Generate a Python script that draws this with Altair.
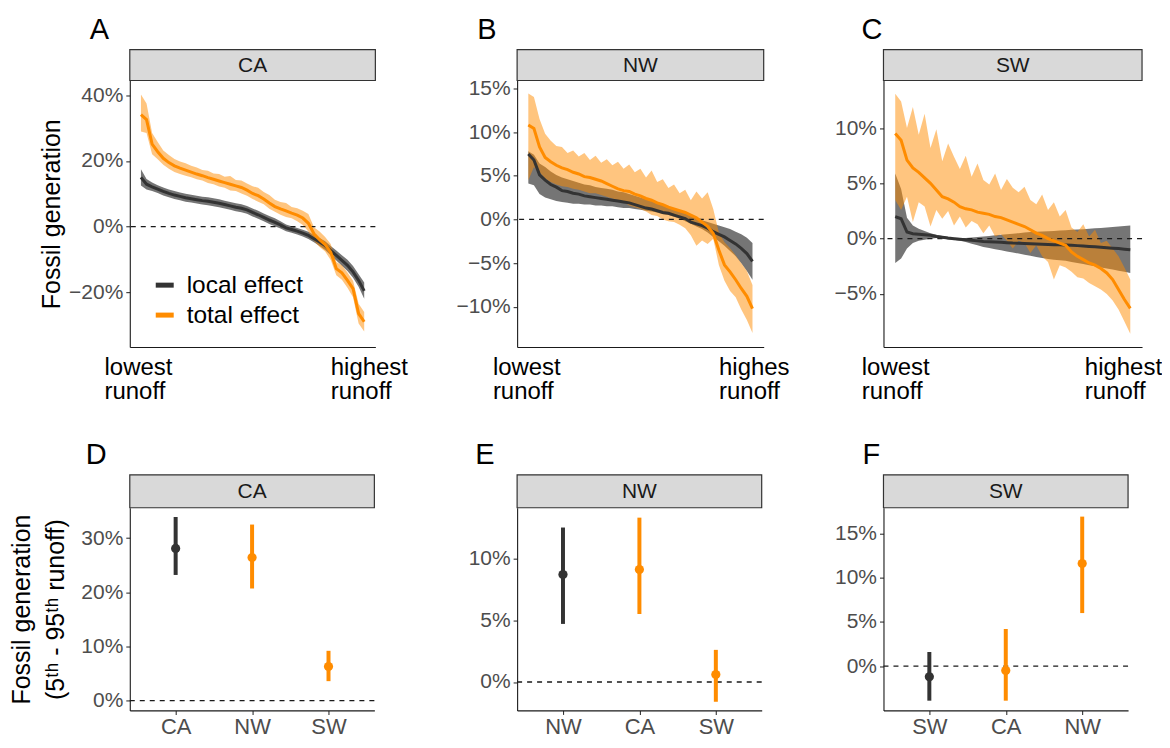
import altair as alt
import pandas as pd

FONT = "Liberation Sans"
DARK = "#333333"
ORANGE = "#FF8C00"
AXIS_GREY = "#4D4D4D"
EFFECTS = ["local effect", "total effect"]

# ---------------- data: sorted runoff rank (1 = lowest, 41 = highest) ----------------
runoff_rank = list(range(1, 42))

# Panel A (CA), values in %
ca_local_mean = [15.0, 12.9, 12.1, 11.4, 10.7, 10.1, 9.6, 9.2, 8.8, 8.5, 8.2, 7.9, 7.7, 7.4, 7.1, 6.7, 6.3, 5.9, 5.6, 5.1,
                 4.3, 3.6, 2.8, 2.0, 1.3, 0.5, -0.4, -0.9, -1.4, -2.0, -2.7, -3.7, -4.7, -5.8, -7.3, -8.8, -10.3, -11.8, -13.8, -16.4, -19.6]
ca_local_hi = [17.5, 14.5, 13.4, 12.6, 11.9, 11.3, 10.8, 10.4, 10.0, 9.7, 9.4, 9.1, 8.9, 8.6, 8.3, 7.9, 7.5, 7.1, 6.8, 6.3,
               5.5, 4.8, 4.0, 3.2, 2.5, 1.6, 0.6, 0.1, -0.4, -1.0, -1.6, -2.6, -3.5, -4.5, -5.9, -7.3, -8.7, -10.1, -12.0, -14.5, -17.0]
ca_local_lo = [12.5, 11.3, 10.8, 10.2, 9.5, 8.9, 8.4, 8.0, 7.6, 7.3, 7.0, 6.7, 6.5, 6.2, 5.9, 5.5, 5.1, 4.7, 4.4, 3.9,
               3.1, 2.4, 1.6, 0.8, 0.1, -0.6, -1.4, -1.9, -2.4, -3.0, -3.8, -4.8, -5.9, -7.1, -8.7, -10.3, -11.9, -13.5, -15.6, -18.3, -22.0]
ca_total_mean = [34.1, 32.6, 25.1, 22.8, 20.8, 19.5, 18.5, 17.8, 17.2, 16.6, 16.0, 15.5, 14.9, 14.4, 13.9, 13.4, 12.9, 12.4, 11.9, 11.1,
                 10.1, 9.4, 8.4, 7.2, 6.1, 5.4, 4.8, 4.1, 3.5, 2.6, 1.0, -2.2, -4.0, -5.5, -7.8, -12.8, -14.1, -16.4, -18.9, -26.5, -29.0]
ca_total_hi = [40.2, 37.5, 28.5, 25.8, 23.2, 21.8, 20.6, 19.8, 19.3, 18.5, 18.0, 17.2, 17.0, 16.2, 16.0, 15.2, 15.4, 14.2, 14.0, 13.1,
               12.3, 11.8, 10.5, 9.6, 8.2, 7.5, 7.2, 6.0, 5.6, 4.8, 3.8, -0.2, -1.5, -3.2, -5.3, -10.8, -11.8, -14.0, -16.5, -23.5, -26.0]
ca_total_lo = [29.0, 28.5, 22.0, 20.5, 18.8, 17.6, 16.6, 16.0, 15.5, 15.0, 14.4, 14.0, 13.3, 12.9, 12.2, 11.8, 11.0, 10.8, 10.1, 9.4,
               8.4, 7.6, 6.8, 5.4, 4.5, 3.6, 2.9, 2.5, 1.6, 0.5, -1.5, -4.3, -6.2, -7.6, -10.2, -14.8, -16.2, -18.6, -21.5, -29.5, -32.0]

# Panel B (NW)
nw_local_mean = [7.5, 6.8, 5.1, 4.5, 4.0, 3.7, 3.3, 3.2, 3.0, 2.9, 2.7, 2.6, 2.5, 2.4, 2.3, 2.2, 2.1, 2.0, 1.9, 1.7,
                 1.5, 1.3, 1.2, 1.0, 0.8, 0.7, 0.5, 0.3, 0.1, -0.3, -0.5, -0.7, -1.0, -1.4, -1.7, -2.0, -2.4, -2.8, -3.3, -3.9, -4.8]
nw_local_hi = [7.8, 7.4, 6.4, 6.0, 5.5, 5.1, 4.8, 4.6, 4.4, 4.2, 4.0, 3.9, 3.7, 3.6, 3.5, 3.4, 3.2, 3.1, 2.9, 2.7,
               2.5, 2.3, 2.1, 1.9, 1.7, 1.5, 1.2, 1.0, 0.7, 0.4, 0.2, -0.1, -0.3, -0.5, -0.7, -0.9, -1.1, -1.4, -1.7, -2.1, -2.7]
nw_local_lo = [4.1, 3.9, 2.9, 2.5, 2.3, 2.1, 2.0, 1.9, 1.8, 1.8, 1.7, 1.7, 1.6, 1.6, 1.5, 1.5, 1.4, 1.3, 1.3, 1.2,
               1.1, 1.0, 0.9, 0.8, 0.6, 0.5, 0.3, 0.1, -0.2, -0.5, -0.8, -1.1, -1.5, -2.0, -2.5, -3.0, -3.6, -4.2, -5.0, -5.9, -6.9]
nw_total_mean = [10.8, 10.4, 8.3, 7.1, 6.6, 6.2, 5.9, 5.7, 5.4, 5.2, 4.9, 4.8, 4.6, 4.4, 4.1, 3.8, 3.5, 3.3, 3.2, 2.9,
                 2.7, 2.4, 2.2, 1.9, 1.7, 1.4, 1.2, 1.0, 0.8, 0.5, 0.2, -0.3, -0.8, -1.6, -3.5, -5.2, -6.0, -6.9, -7.9, -8.8, -10.2]
nw_total_hi = [14.4, 14.0, 11.5, 9.8, 9.0, 8.4, 8.3, 7.6, 7.9, 7.2, 7.6, 6.8, 7.3, 6.5, 6.9, 6.2, 6.6, 5.8, 6.3, 5.4,
               5.8, 4.8, 5.6, 4.3, 4.6, 3.6, 4.0, 3.0, 3.4, 2.2, 3.2, 2.4, 3.1, 1.2, -1.5, -2.6, -3.3, -4.1, -5.0, -5.9, -7.5]
nw_total_lo = [4.5, 6.0, 5.4, 4.7, 4.3, 4.0, 3.8, 3.7, 3.5, 3.4, 3.2, 3.0, 3.0, 2.8, 2.6, 2.4, 2.2, 2.0, 1.6, 1.4,
               1.2, 0.9, 0.5, 0.4, 0.0, -0.2, -0.3, -0.6, -1.0, -1.8, -3.0, -2.4, -2.8, -2.2, -5.2, -7.0, -8.2, -8.9, -10.3, -11.5, -13.0]

# Panel C (SW)
sw_local_mean = [2.0, 1.8, 0.6, 0.45, 0.4, 0.35, 0.3, 0.2, 0.12, 0.05, 0.0, -0.05, -0.1, -0.15, -0.2, -0.25, -0.28, -0.3, -0.33, -0.36,
                 -0.4, -0.42, -0.44, -0.46, -0.48, -0.5, -0.52, -0.54, -0.56, -0.58, -0.6, -0.63, -0.66, -0.7, -0.74, -0.78, -0.82, -0.86, -0.9, -0.95, -1.0]
sw_local_hi = [5.9, 4.5, 1.9, 1.2, 0.9, 0.7, 0.5, 0.35, 0.25, 0.15, 0.08, 0.05, 0.05, 0.1, 0.15, 0.2, 0.25, 0.3, 0.35, 0.4,
               0.45, 0.5, 0.55, 0.6, 0.62, 0.65, 0.68, 0.7, 0.73, 0.76, 0.8, 0.83, 0.86, 0.9, 0.93, 0.97, 1.0, 1.05, 1.1, 1.15, 1.2]
sw_local_lo = [-2.2, -1.8, -0.9, -0.4, -0.2, -0.1, 0.0, 0.05, 0.0, -0.05, -0.1, -0.2, -0.3, -0.45, -0.6, -0.75, -0.85, -0.95, -1.05, -1.15,
               -1.25, -1.35, -1.45, -1.55, -1.65, -1.75, -1.85, -1.9, -1.95, -2.0, -2.1, -2.2, -2.3, -2.4, -2.5, -2.6, -2.7, -2.8, -2.9, -3.0, -3.1]
sw_total_mean = [9.5, 8.9, 7.1, 6.4, 6.0, 5.5, 5.0, 4.4, 3.8, 3.6, 3.3, 2.9, 2.7, 2.6, 2.4, 2.3, 2.2, 2.0, 1.9, 1.7,
                 1.5, 1.3, 1.1, 0.8, 0.5, 0.3, 0.0, -0.2, -0.4, -0.6, -1.2, -1.6, -1.9, -2.2, -2.4, -2.7, -3.1, -3.7, -4.6, -5.5, -6.3]
sw_total_hi = [13.1, 12.4, 10.0, 11.9, 9.4, 11.3, 8.2, 9.9, 7.0, 8.6, 7.4, 6.3, 7.5, 5.6, 6.8, 5.3, 4.9, 5.9, 4.4, 5.4,
               4.6, 4.2, 4.7, 3.5, 3.1, 4.0, 2.6, 3.3, 2.0, 2.6, 1.0, 0.6, 1.3, 0.2, 0.8, -0.4, -0.2, -0.9, -1.6, -2.6, -3.7]
sw_total_lo = [3.5, 2.6, 3.8, 1.5, 3.3, 2.9, 1.1, 2.6, 1.8, 2.5, 1.2, 2.0, 1.0, 1.6, 1.3, 0.5, 1.2, 0.2, 0.4, -0.2,
               -0.9, -0.2, -0.4, -1.3, -0.6, -1.6, -2.1, -3.7, -2.4, -2.6, -3.0, -3.5, -3.6, -4.0, -4.3, -4.6, -5.0, -5.6, -6.4, -7.5, -8.6]

# Bottom panels: 5th - 95th runoff difference (%)
d_regions = ["CA", "NW", "SW"]
d_effects = ["local effect", "total effect", "total effect"]
d_mean = [28.1, 26.4, 6.3]
d_lo = [23.2, 20.7, 3.6]
d_hi = [33.9, 32.5, 9.2]

e_regions = ["NW", "CA", "SW"]
e_effects = ["local effect", "total effect", "total effect"]
e_mean = [8.7, 9.1, 0.6]
e_lo = [4.7, 5.5, -1.6]
e_hi = [12.5, 13.3, 2.6]

f_regions = ["SW", "CA", "NW"]
f_effects = ["local effect", "total effect", "total effect"]
f_mean = [-1.2, -0.5, 11.6]
f_lo = [-3.9, -3.9, 6.0]
f_hi = [1.6, 4.2, 16.9]

strip_labels = ["CA", "NW", "SW"]
panel_letters = ["A", "B", "C", "D", "E", "F"]

# ---------------- helpers ----------------
color_scale = alt.Scale(domain=EFFECTS, range=[DARK, ORANGE])
opacity_scale = alt.Scale(domain=EFFECTS, range=[0.68, 0.5])
zero_df = pd.DataFrame({"zero": [0]})
legend_df = pd.DataFrame({"effect": EFFECTS})

BOTTOM_H = 203
DASH = [5, 5]


def top_df(lm, llo, lhi, tm, tlo, thi):
    n = len(runoff_rank)
    return pd.DataFrame({
        "rank": runoff_rank * 2,
        "effect": [EFFECTS[0]] * n + [EFFECTS[1]] * n,
        "mean": lm + tm,
        "lo": llo + tlo,
        "hi": lhi + thi,
    })


def y_axis(values, title=None, title_pad=10):
    kw = dict(values=values, format="d", labelExpr="datum.label + '%'", labelFontSize=21,
              labelColor=AXIS_GREY, labelPadding=3, tickSize=4, tickColor="#333333", tickWidth=1.1,
              domainColor="#1A1A1A", domainWidth=1.1, grid=False)
    if title:
        kw.update(title=title, titleFontSize=25, titleFontWeight="normal", titleColor="black",
                  titlePadding=title_pad, titleLineHeight=34)
    else:
        kw.update(title=None)
    return alt.Axis(**kw)


def manual_legend():
    layers = []
    for k, eff in enumerate(EFFECTS):
        src = alt.Chart(legend_df).transform_filter(alt.datum.effect == eff)
        layers.append(src.mark_rule(strokeWidth=5).encode(
            x=alt.value(26), x2=alt.value(44), y=alt.value(205 + 30 * k),
            color=alt.Color("effect:N", scale=color_scale, legend=None)))
        layers.append(src.mark_text(align="left", baseline="middle", fontSize=24.5, color="black").encode(
            x=alt.value(57), y=alt.value(206 + 30 * k), text="effect:N"))
    return layers


def zero_line(ysc, yax):
    return alt.Chart(zero_df).mark_rule(color="#1A1A1A", strokeWidth=1.3, strokeDash=DASH).encode(
        y=alt.Y("zero:Q", scale=ysc, axis=yax))


def top_panel(df, width, ydom, yvals, ytitle, hi_word, lo_off, hi_off, with_legend):
    base = alt.Chart(df)
    x = alt.X("rank:Q", scale=alt.Scale(domain=[-1, 43], nice=False, zero=False),
              axis=alt.Axis(values=[1, 41],
                            labelExpr=f"datum.value < 20 ? ['lowest', 'runoff'] : ['{hi_word}', 'runoff']",
                            ticks=False, labelFontSize=24, labelColor="black", labelLineHeight=24,
                            labelPadding=9, labelBaseline="top", labelAlign="left",
                            labelOffset={"condition": {"test": "datum.value > 20", "value": hi_off}, "value": lo_off},
                            labelFlush=False, labelOverlap=False,
                            domainColor="#1A1A1A", domainWidth=1.1, grid=False, title=None))
    ysc = alt.Scale(domain=ydom, nice=False, zero=False)
    yax = y_axis(yvals, ytitle, 4)
    band = base.mark_area(strokeWidth=0).encode(
        x=x, y=alt.Y("lo:Q", scale=ysc, axis=yax), y2="hi:Q",
        color=alt.Color("effect:N", scale=color_scale, legend=None),
        opacity=alt.Opacity("effect:N", scale=opacity_scale, legend=None))
    line = base.mark_line(strokeWidth=3).encode(
        x=x, y=alt.Y("mean:Q", scale=ysc, axis=yax),
        color=alt.Color("effect:N", scale=color_scale, legend=None))
    layers = [band, zero_line(ysc, yax), line]
    if with_legend:
        layers += manual_legend()
    return alt.layer(*layers).properties(width=width, height=267)


def bottom_panel(regions, effects, mean, lo, hi, width, ydom, yvals, ytitle):
    df = pd.DataFrame({"region": regions, "effect": effects, "mean": mean, "lo": lo, "hi": hi})
    base = alt.Chart(df)
    x = alt.X("region:N", sort=regions, scale=alt.Scale(type="point", padding=0.6),
              axis=alt.Axis(title=None, labelAngle=0, labelFontSize=22, labelColor=AXIS_GREY,
                            labelPadding=2, tickSize=4, tickColor="#333333", tickWidth=1.1,
                            domainColor="#1A1A1A", domainWidth=1.1, grid=False))
    ysc = alt.Scale(domain=ydom, nice=False, zero=False)
    yax = y_axis(yvals, ytitle, 12)
    bars = base.mark_rule(strokeWidth=4).encode(
        x=x, y=alt.Y("lo:Q", scale=ysc, axis=yax), y2="hi:Q",
        color=alt.Color("effect:N", scale=color_scale, legend=None))
    pts = base.mark_point(filled=True, size=85, opacity=1).encode(
        x=x, y=alt.Y("mean:Q", scale=ysc, axis=yax),
        color=alt.Color("effect:N", scale=color_scale, legend=None))
    return alt.layer(zero_line(ysc, yax), bars, pts).properties(width=width, height=BOTTOM_H)


def strip(label, width, height, letter, dx):
    df = pd.DataFrame({"label": [label]})
    base = alt.Chart(df)
    box = base.mark_rect(fill="#D9D9D9", stroke="#333333", strokeWidth=1.2).encode(
        x=alt.value(0), x2=alt.value(width), y=alt.value(0), y2=alt.value(height))
    txt = base.mark_text(fontSize=21, color="#1A1A1A", baseline="middle", align="center").encode(
        x=alt.value(width / 2), y=alt.value(height / 2 + 1), text="label:N")
    return alt.layer(box, txt).properties(
        width=width, height=height,
        title=alt.TitleParams(letter, anchor="start", frame="group", dx=dx, fontSize=29,
                              fontWeight="normal", color="black", offset=4))


def spacer(w, h):
    return alt.Chart(zero_df).mark_point(opacity=0).encode(
        x=alt.value(0), y=alt.value(0)).properties(width=w, height=h)


plot_a = top_panel(top_df(ca_local_mean, ca_local_lo, ca_local_hi, ca_total_mean, ca_total_lo, ca_total_hi),
                   246, [-36.7, 44.5], [-20, 0, 20, 40], "Fossil generation", "highest", -37, -34, True)
plot_b = top_panel(top_df(nw_local_mean, nw_local_lo, nw_local_hi, nw_total_mean, nw_total_lo, nw_total_hi),
                   247, [-14.6, 15.9], [-10, -5, 0, 5, 10, 15], None, "highes", -36, -34, False)
plot_c = top_panel(top_df(sw_local_mean, sw_local_lo, sw_local_hi, sw_total_mean, sw_total_lo, sw_total_hi),
                   259, [-9.8, 14.3], [-5, 0, 5, 10], None, "highest", -34, -46, False)

plot_d = bottom_panel(d_regions, d_effects, d_mean, d_lo, d_hi, 245, [-1.8, 35.6], [0, 10, 20, 30],
                      ["Fossil generation", "(5\u1d57\u02b0 - 95\u1d57\u02b0 runoff)"])
plot_e = bottom_panel(e_regions, e_effects, e_mean, e_lo, e_hi, 245, [-2.3, 14.1], [0, 5, 10], None)
plot_f = bottom_panel(f_regions, f_effects, f_mean, f_lo, f_hi, 245, [-5.0, 17.9], [0, 5, 10, 15], None)

cells = [
    strip(strip_labels[0], 246, 31, panel_letters[0], -40), spacer(142, 1),
    strip(strip_labels[1], 247, 31, panel_letters[1], -40), spacer(120, 1),
    strip(strip_labels[2], 259, 31, panel_letters[2], -22),
    plot_a, spacer(142, 1), plot_b, spacer(120, 1), plot_c,
    spacer(1, 128), spacer(1, 1), spacer(1, 1), spacer(1, 1), spacer(1, 1),
    strip(strip_labels[0], 245, 33, panel_letters[3], -44), spacer(142, 1),
    strip(strip_labels[1], 245, 33, panel_letters[4], -42), spacer(120, 1),
    strip(strip_labels[2], 245, 33, panel_letters[5], -21),
    plot_d, spacer(142, 1), plot_e, spacer(120, 1), plot_f,
]

chart = alt.concat(*cells, columns=5, spacing=0, bounds="flush", align="each",
                   padding={"left": 1, "top": 7, "right": 0, "bottom": -4}).configure(
    font=FONT).configure_view(stroke=None)

chart.save("out.html", embed_options={"renderer": "svg", "actions": False})
